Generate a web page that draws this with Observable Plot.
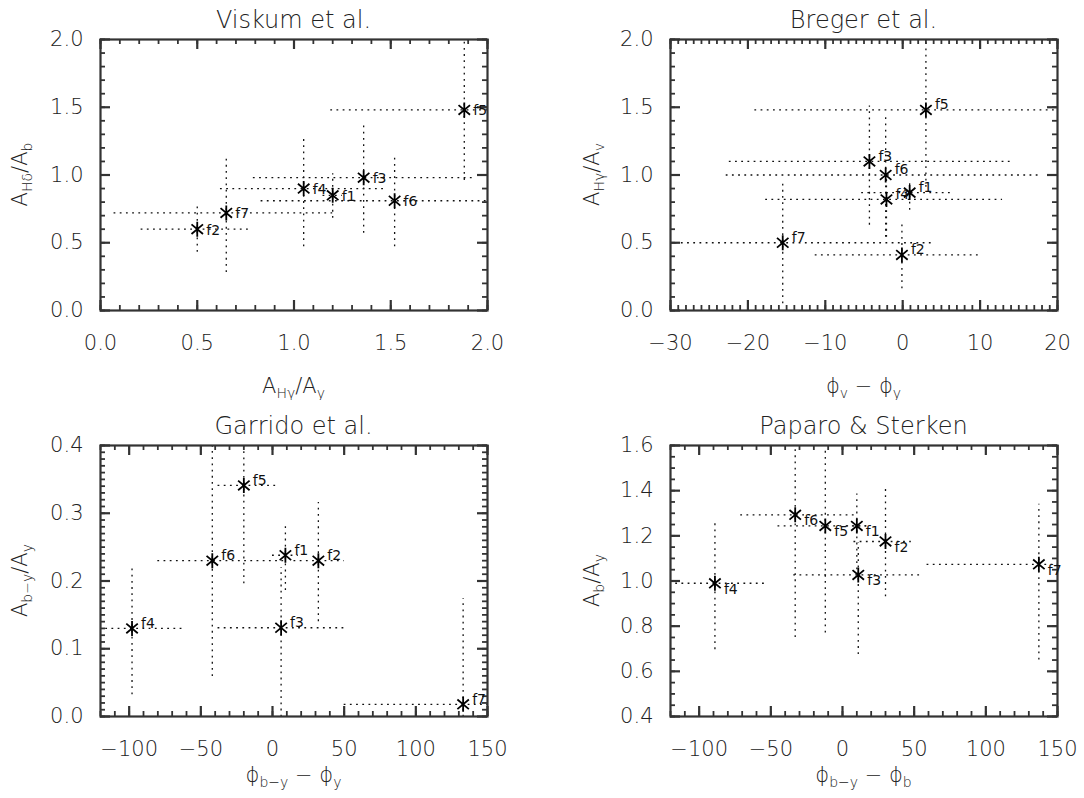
<!DOCTYPE html>
<html><head><meta charset="utf-8">
<script src="https://cdn.jsdelivr.net/npm/d3@7"></script>
<script src="https://cdn.jsdelivr.net/npm/@observablehq/plot@0.6"></script>
<style>
body{margin:0;background:#fff;}
#wrap{position:relative;width:1084px;height:798px;overflow:hidden;}
#wrap svg{position:absolute;font-family:"DejaVu Sans",sans-serif;font-weight:200;}
</style></head><body><div id="wrap"></div>
<script>
// ---------------- data ----------------
const freqs = ["f1","f2","f3","f4","f5","f6","f7"];

// Viskum et al.: A_Hγ/A_y (x) vs A_Hδ/A_b (y)
const viskumX   = [1.20, 0.50, 1.36, 1.05, 1.88, 1.52, 0.65];
const viskumXlo = [1.15, 0.21, 0.79, 0.62, 1.19, 0.83, 0.07];
const viskumXhi = [1.25, 0.78, 1.93, 1.48, 2.30, 2.20, 1.20];
const viskumY   = [0.85, 0.60, 0.98, 0.90, 1.48, 0.81, 0.72];
const viskumYlo = [0.68, 0.43, 0.57, 0.47, 0.96, 0.47, 0.28];
const viskumYhi = [1.01, 0.77, 1.38, 1.28, 2.00, 1.15, 1.14];

// Breger et al.: φv − φy (x) vs A_Hγ/A_v (y)
const bregerX   = [0.9, -0.1, -4.3, -2.1, 3.0, -2.2, -15.5];
const bregerXlo = [-5.3, -11.3, -22.4, -17.7, -19.1, -22.8, -31.0];
const bregerXhi = [6.7, 10.1, 14.0, 12.9, 25.0, 18.0, 4.1];
const bregerY   = [0.87, 0.41, 1.10, 0.82, 1.48, 1.00, 0.50];
const bregerYlo = [0.74, 0.16, 0.63, 0.54, 0.91, 0.54, 0.05];
const bregerYhi = [0.95, 0.64, 1.51, 0.98, 2.10, 1.43, 0.94];

// Garrido et al.: φ(b−y) − φy (x) vs A_(b−y)/A_y (y)
const garridoX   = [9, 32, 6, -98, -20, -42, 133];
const garridoXlo = [0, 15, -38, -125, -38, -80, 50];
const garridoXhi = [18, 50, 52, -61, 3, 10, 160];
const garridoY   = [0.238, 0.230, 0.131, 0.130, 0.341, 0.230, 0.018];
const garridoYlo = [0.186, 0.140, -0.01, 0.032, 0.196, 0.059, -0.01];
const garridoYhi = [0.282, 0.316, 0.220, 0.220, 0.420, 0.420, 0.174];

// Paparo & Sterken: φ(b−y) − φb (x) vs A_b/A_y (y)
const paparoX   = [10, 30, 11, -89, -12, -33, 137];
const paparoXlo = [3, 8, -34, -125, -45, -71, 59];
const paparoXhi = [17, 48, 56, -54, 20, 9, 170];
const paparoY   = [1.244, 1.175, 1.027, 0.99, 1.244, 1.293, 1.074];
const paparoYlo = [1.05, 0.93, 0.674, 0.696, 0.77, 0.75, 0.65];
const paparoYhi = [1.385, 1.41, 1.17, 1.267, 1.58, 1.65, 1.34];

// ---------------- panels ----------------
const rows = (X, Xlo, Xhi, Y, Ylo, Yhi) =>
  freqs.map((f, i) => ({f, x: X[i], xlo: Xlo[i], xhi: Xhi[i], y: Y[i], ylo: Ylo[i], yhi: Yhi[i]}));

const panels = [
  {title: "Viskum et al.", left: 0, top: 0, data: rows(viskumX, viskumXlo, viskumXhi, viskumY, viskumYlo, viskumYhi),
   xdom: [0, 2], xmaj: 0.5, xmin: 0.1, xfmt: ".1f", ydom: [0, 2], ymaj: 0.5, ymin: 0.1, yfmt: ".1f", labDy: 1,
   xlab: [["A",0],["Hγ",1],["/A",0],["y",1]], ylab: [["A",0],["Hδ",1],["/A",0],["b",1]]},
  {title: "Breger et al.", left: 542, top: 0, data: rows(bregerX, bregerXlo, bregerXhi, bregerY, bregerYlo, bregerYhi),
   xdom: [-30, 20], xmaj: 10, xmin: 1, xfmt: "d", ydom: [0, 2], ymaj: 0.5, ymin: 0.1, yfmt: ".1f", labDy: -5,
   xlab: [["ϕ",0],["v",1],[" − ",0],["ϕ",0],["y",1]], ylab: [["A",0],["Hγ",1],["/A",0],["v",1]]},
  {title: "Garrido et al.", left: 0, top: 400, data: rows(garridoX, garridoXlo, garridoXhi, garridoY, garridoYlo, garridoYhi),
   xdom: [-120, 150], xmaj: 50, xmin: 10, xfmt: "d", ydom: [0, 0.4], ymaj: 0.1, ymin: 0.01, yfmt: ".1f", labDy: -5,
   xlab: [["ϕ",0],["b−y",1],[" − ",0],["ϕ",0],["y",1]], ylab: [["A",0],["b−y",1],["/A",0],["y",1]]},
  {title: "Paparo & Sterken", left: 542, top: 400, data: rows(paparoX, paparoXlo, paparoXhi, paparoY, paparoYlo, paparoYhi),
   xdom: [-120, 150], xmaj: 50, xmin: 10, xfmt: "d", ydom: [0.4, 1.6], ymaj: 0.2, ymin: 0.05, yfmt: ".1f", labDy: 6,
   xlab: [["ϕ",0],["b−y",1],[" − ",0],["ϕ",0],["b",1]], ylab: [["A",0],["b",1],["/A",0],["y",1]]}
];

const AX = "#333";
const FW = 387, FH = 271;
const star = {
  draw(ctx, size) {
    const r = Math.sqrt(size / Math.PI);
    const a = r * Math.cos(40 * Math.PI / 180), b = r * Math.sin(40 * Math.PI / 180);
    ctx.moveTo(0, -r); ctx.lineTo(0, r);
    ctx.moveTo(-a, -b); ctx.lineTo(a, b);
    ctx.moveTo(-a, b); ctx.lineTo(a, -b);
  }
};

function ticksFrom(dom, step) {
  const out = [];
  const n0 = Math.ceil(dom[0] / step - 1e-9), n1 = Math.floor(dom[1] / step + 1e-9);
  for (let k = n0; k <= n1; k++) out.push(+(k * step).toFixed(6));
  return out;
}

const wrap = document.getElementById("wrap");
for (const p of panels) {
  const isRight = p.left > 0, isBottom = p.top > 0;
  const mL = isRight ? 128 : 100, mT = isBottom ? 45 : 39;
  const W = 542, H = isBottom ? 398 : 400;
  const mR = W - mL - FW, mB = H - mT - FH;
  const xMaj = ticksFrom(p.xdom, p.xmaj), xMin = ticksFrom(p.xdom, p.xmin);
  const yMaj = ticksFrom(p.ydom, p.ymaj), yMin = ticksFrom(p.ydom, p.ymin);
  const [xa, xb] = p.xdom, [ya, yb] = p.ydom;
  // tick lengths expressed in data units (pixel length / frame size)
  const ty = L => (yb - ya) * L / FH, tx = L => (xb - xa) * L / FW;
  const dash = "1.8,4.4";
  const tickMarks = (L, sw, xs, ys) => [
    Plot.ruleX(xs, {x: d => d, y1: ya, y2: ya + ty(L), stroke: AX, strokeWidth: sw}),
    Plot.ruleX(xs, {x: d => d, y1: yb, y2: yb - ty(L), stroke: AX, strokeWidth: sw}),
    Plot.ruleY(ys, {y: d => d, x1: xa, x2: xa + tx(L), stroke: AX, strokeWidth: sw}),
    Plot.ruleY(ys, {y: d => d, x1: xb, x2: xb - tx(L), stroke: AX, strokeWidth: sw})
  ];
  const svg = Plot.plot({
    width: W, height: H, marginLeft: mL, marginRight: mR, marginTop: mT, marginBottom: mB,
    style: {fontFamily: "DejaVu Sans, sans-serif", color: "#222", background: "transparent"},
    x: {domain: p.xdom}, y: {domain: p.ydom},
    marks: [
      // error bars
      Plot.ruleY(p.data, {y: "y", x1: "xlo", x2: "xhi", stroke: "#111", strokeWidth: 1.3, strokeDasharray: dash, clip: true}),
      Plot.ruleX(p.data, {x: "x", y1: "ylo", y2: "yhi", stroke: "#111", strokeWidth: 1.3, strokeDasharray: dash, clip: true}),
      // inward ticks on all four sides
      ...tickMarks(5, 1.8, xMin, yMin),
      ...tickMarks(10, 2.2, xMaj, yMaj),
      Plot.frame({stroke: AX, strokeWidth: 2.2}),
      Plot.axisX({ticks: xMaj, tickSize: 0, tickPadding: 25, tickFormat: d3.format(p.xfmt), fontSize: 21, label: null}),
      Plot.axisY({ticks: yMaj, tickSize: 0, tickPadding: 17, tickFormat: d3.format(p.yfmt), fontSize: 21, label: null}),
      // stars + labels
      Plot.dot(p.data, {x: "x", y: "y", symbol: star, r: 7.5, stroke: "#000", strokeWidth: 1.8}),
      Plot.text(p.data, {x: "x", y: "y", text: "f", dx: 9, dy: p.labDy, textAnchor: "start", fontSize: 14, fontWeight: 400, fill: "#111"})
    ]
  });
  svg.style.left = p.left + "px";
  svg.style.top = p.top + "px";
  const s = d3.select(svg);
  const cx = mL + FW / 2, cy = mT + FH / 2;
  s.append("text").attr("x", cx).attr("y", mT - 11).attr("text-anchor", "middle")
    .attr("font-size", 24).attr("fill", "#222").text(p.title);
  const addLabel = (parts, g) => {
    const t = g.append("text").attr("fill", "#222").attr("font-size", 21);
    let shift = 0;
    for (const [str, sub] of parts) {
      const want = sub ? 5 : 0;
      t.append("tspan").attr("dy", want - shift).attr("font-size", sub ? 14 : 21).text(str);
      shift = want;
    }
    return t;
  };
  const xl = addLabel(p.xlab, s.append("g").attr("transform", `translate(${cx},${mT + FH + (isBottom ? 66 : 83)})`));
  xl.attr("text-anchor", "middle");
  const yl = addLabel(p.ylab, s.append("g").attr("transform", `translate(${isRight ? 57 : 27},${cy}) rotate(-90)`));
  yl.attr("text-anchor", "middle");
  wrap.appendChild(svg);
}
</script></body></html>
